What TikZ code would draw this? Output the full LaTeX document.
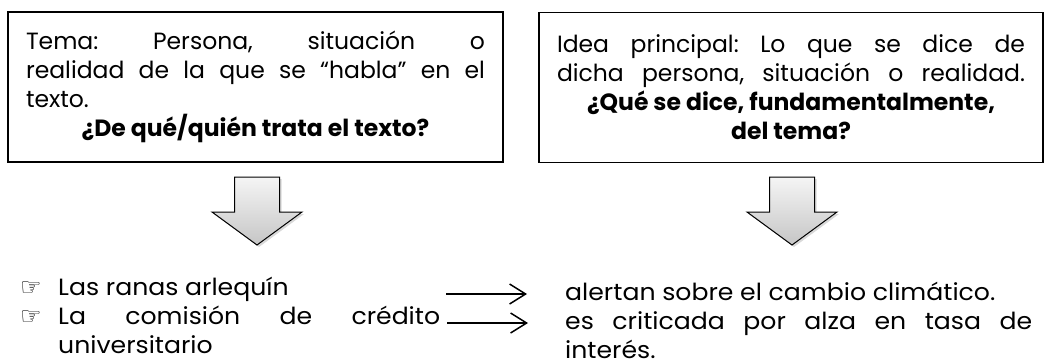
\documentclass[tikz,border=0pt]{standalone}
\usepackage{fontspec}
\setmainfont{Poppins}
\newfontfamily\itemfont{Poppins}[FakeStretch=1.07]
\newfontfamily\handfont{DejaVu Sans}
\usetikzlibrary{arrows.meta,shadows,positioning}
\frenchspacing

\tikzset{
  textbox/.style={draw, line width=1.3pt, text width=#1, align=justify,
    inner xsep=18pt, inner ysep=0pt, minimum height=150pt,
    font=\fontsize{23.5}{29}\selectfont},
  bigarrow/.style={draw, line width=1pt, top color=gray!8, bottom color=gray!45,
    drop shadow={opacity=0.3, shadow xshift=2pt, shadow yshift=-2pt}},
  thinarrow/.style={line width=1.5pt,
    -{Straight Barb[length=16pt,width=20pt,line width=1.5pt]}},
  hand/.style={font=\handfont\fontsize{24}{24}\selectfont, anchor=base},
  item/.style={font=\itemfont\fontsize{23.5}{29}\selectfont, anchor=base west,
    align=justify, inner sep=0pt}
}

\begin{document}
\begin{tikzpicture}[x=1pt, y=-1pt]
  \useasboundingbox (0,0) rectangle (1044,359);

  % the two boxes
  \node[textbox=459pt] (tema) at (255.5,87) {Tema: Persona, situación o\linebreak
    realidad de la que se “habla” en el\linebreak texto.\par
    {\centering\bfseries ¿De qué/quién trata el texto?\par}};
  \node[textbox=468pt] (idea) at (791,87.5) {Idea principal: Lo que se dice de\linebreak
    dicha persona, situación o realidad.{\parfillskip=0pt\par}
    {\centering\bfseries ¿Qué se dice, fundamentalmente,\\ del tema?\par}};

  % block arrows under the boxes
  \foreach \cx in {257,792}
    \draw[bigarrow] (\cx-22.5,177) -- (\cx+22.5,177) -- (\cx+22.5,212) -- (\cx+45,212)
      -- (\cx,245) -- (\cx-45,212) -- (\cx-22.5,212) -- cycle;

  % examples
  \node[hand] (h1) at (31,295) {☞};
  \node[item] (ranas) at (58,295) {Las ranas arlequín};
  \node[hand] (h2) at (31,324) {☞};
  \node[item, text width=382pt] (comision) at (58,324) {La comisión de crédito\linebreak universitario};

  \node[item] (alertan) at (565,300) {alertan sobre el cambio climático.};
  \node[item, text width=467pt] (criticada) at (565,329) {es criticada por alza en tasa de\linebreak interés.};

  \coordinate (a1) at (446,294);
  \coordinate (b1) at (527,294);
  \coordinate (a2) at (447,323);
  \coordinate (b2) at (528,323);
  \draw[thinarrow] (a1) -- (b1);
  \draw[thinarrow] (a2) -- (b2);
\end{tikzpicture}
\end{document}
